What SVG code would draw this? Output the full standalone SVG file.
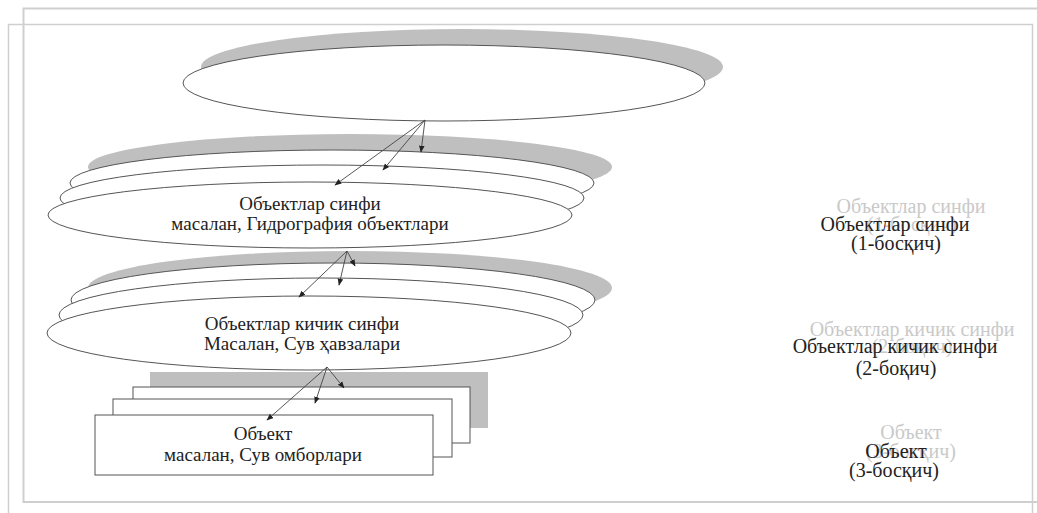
<svg xmlns="http://www.w3.org/2000/svg" width="1037" height="513" viewBox="0 0 1037 513">
<defs>
<style>
.sh{fill:#bfbfbf;stroke:none}
.el{fill:#fff;stroke:#555;stroke-width:1}
.t{font-family:"Liberation Serif","Times New Roman",serif;font-size:19px;fill:#222;text-anchor:middle}
.r{font-family:"Liberation Serif","Times New Roman",serif;font-size:20px;fill:#222;text-anchor:middle}
.g{font-family:"Liberation Serif","Times New Roman",serif;font-size:20px;fill:#c9c9c9;text-anchor:middle}
.fr{fill:none;stroke:#cfcfcf}
.cn{stroke:#444;stroke-width:0.9;fill:none;marker-end:url(#ah)}
</style>
<marker id="ah" viewBox="0 0 10 10" refX="9" refY="5" markerWidth="7" markerHeight="7" orient="auto" markerUnits="userSpaceOnUse">
<path d="M0,1 L10,5 L0,9 z" fill="#222"/>
</marker>
</defs>
<rect width="1037" height="513" fill="#fff"/>
<g id="frame">
<path class="fr" stroke-width="2" d="M1040,8.5 H23.5 V502 H1040"/>
<path class="fr" stroke-width="1.5" d="M8.5,513 V24.5 H1032.5 V513"/>
</g>
<g id="node-top">
<ellipse class="sh" cx="462" cy="67" rx="261" ry="38"/>
<ellipse class="el" cx="444" cy="83" rx="261" ry="38"/>
</g>
<g id="node-class">
<ellipse class="sh" cx="350" cy="167" rx="262" ry="33"/>
<ellipse class="el" cx="332" cy="183" rx="262" ry="33"/>
<ellipse class="el" cx="322" cy="198" rx="262" ry="33"/>
<ellipse class="el" cx="310" cy="215" rx="262" ry="33"/>
<text class="t" x="310" y="210">Объектлар синфи</text>
<text class="t" x="310" y="230">масалан, Гидрография объектлари</text>
</g>
<g id="node-subclass">
<ellipse class="sh" cx="350" cy="288" rx="262" ry="37"/>
<ellipse class="el" cx="333" cy="300" rx="262" ry="37"/>
<ellipse class="el" cx="321" cy="315" rx="262" ry="37"/>
<ellipse class="el" cx="309" cy="333" rx="262" ry="37"/>
<text class="t" x="302" y="330">Объектлар кичик синфи</text>
<text class="t" x="302" y="350">Масалан, Сув ҳавзалари</text>
</g>
<g id="node-object">
<rect class="sh" x="150" y="372" width="338" height="56"/>
<rect class="el" x="133" y="387" width="337" height="56"/>
<rect class="el" x="113" y="399" width="339" height="58"/>
<rect class="el" x="95" y="415" width="338" height="60"/>
<text class="t" x="263" y="440">Объект</text>
<text class="t" x="263" y="461">масалан, Сув омборлари</text>
</g>
<g id="connectors">
<path class="cn" d="M425,120 L335,185"/>
<path class="cn" d="M425,120 L383,170"/>
<path class="cn" d="M425,120 L421,152"/>
<path class="cn" d="M347,251 L299,297"/>
<path class="cn" d="M347,251 L339,285"/>
<path class="cn" d="M347,251 L355,266"/>
<path class="cn" d="M327,367 L267,420"/>
<path class="cn" d="M327,367 L315,403"/>
<path class="cn" d="M327,367 L344,388"/>
</g>
<g id="label-1">
<text class="g" x="911" y="213">Объектлар синфи</text>
<text class="g" x="912" y="231">(1-босқич)</text>
<text class="r" x="895" y="231">Объектлар синфи</text>
<text class="r" x="896" y="250">(1-босқич)</text>
</g>
<g id="label-2">
<text class="g" x="912" y="336">Объектлар кичик синфи</text>
<text class="g" x="912" y="353">(2-боқич)</text>
<text class="r" x="895" y="353">Объектлар кичик синфи</text>
<text class="r" x="896" y="375">(2-боқич)</text>
</g>
<g id="label-3">
<text class="g" x="911" y="439">Объект</text>
<text class="g" x="911" y="458">(3-босқич)</text>
<text class="r" x="896" y="458">Объект</text>
<text class="r" x="894" y="477">(3-босқич)</text>
</g>
</svg>
